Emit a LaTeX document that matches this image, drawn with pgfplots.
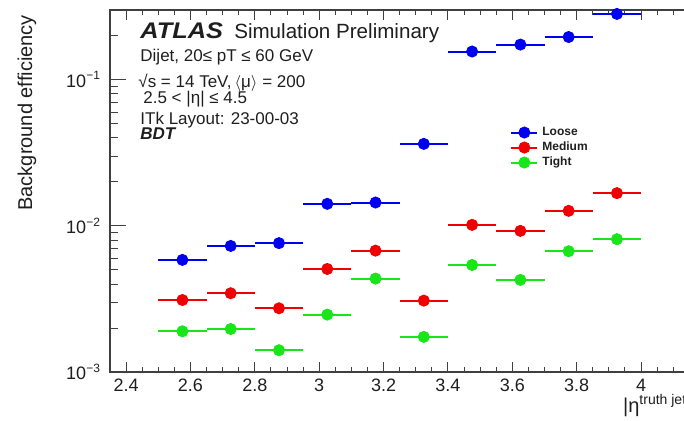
\documentclass[border=0pt]{standalone}
\usepackage{fontspec}
\setmainfont{Liberation Sans}
\usepackage{pgfplots}
\usepackage{pgfplotstable}
\pgfplotsset{compat=1.18}
\definecolor{rgreen}{RGB}{25,230,25}
\definecolor{rblue}{RGB}{0,0,240}
\definecolor{rred}{RGB}{240,0,0}
\definecolor{txt}{RGB}{30,30,30}

\pgfplotstableread{
x      loose    medium   tight
2.575  0.00585  0.00311  0.00190
2.725  0.00729  0.00346  0.00197
2.875  0.00762  0.00273  0.00141
3.025  0.01415  0.00507  0.00247
3.175  0.01445  0.00677  0.00436
3.325  0.0364   0.00308  0.00174
3.475  0.156    0.01016  0.00540
3.625  0.174    0.00924  0.00427
3.775  0.196    0.01267  0.00671
3.925  0.282    0.01675  0.00811
}\effdata

\begin{document}
\begin{tikzpicture}
\useasboundingbox (-55pt,-24pt) rectangle (287pt,186pt);
\clip (-55pt,-24pt) rectangle (287pt,186pt);
\begin{axis}[
  at={(0,0)}, anchor=south west,
  scale only axis, width=346pt, height=181pt,
  xmin=2.35, xmax=4.5, ymin=1e-3, ymax=0.3,
  ymode=log,
  xtick={2.4,2.6,2.8,3.0,3.2,3.4,3.6,3.8,4.0,4.2,4.4},
  minor x tick num=3,
  ytick={0.001,0.01,0.1},
  minor ytick={0.002,0.003,0.004,0.005,0.006,0.007,0.008,0.009,0.02,0.03,0.04,0.05,0.06,0.07,0.08,0.09,0.2,0.3},
  yticklabels={10\textsuperscript{−3},10\textsuperscript{−2},10\textsuperscript{−1}},
  tick align=inside,
  tick pos=both,
  major tick length=6pt, minor tick length=3pt,
  every major x tick/.append style={/pgfplots/major tick length=5pt},
  every minor x tick/.append style={/pgfplots/minor tick length=2.5pt},
  every major y tick/.append style={/pgfplots/major tick length=8pt},
  every minor y tick/.append style={/pgfplots/minor tick length=4pt},
  tick style={line width=0.5pt, color=black!75},
  axis line style={line width=0.7pt, color=black!75},
  /pgf/number format/assume math mode=true,
  ticklabel style={font=\fontsize{9}{10}\selectfont, text=txt},
  yticklabel style={xshift=-1pt},
  ylabel={Background efficiency},
  ylabel style={at={(axis description cs:-0.12,1.005)}, anchor=east, font=\fontsize{10}{12}\selectfont, text=txt},
  clip=false,
  legend cell align=left,
  legend style={draw=none, fill=none, at={(rel axis cs:0.578,0.682)}, anchor=north west,
    font=\bfseries\fontsize{6}{7}\selectfont, row sep=0.5pt, column sep=1.5pt, inner sep=0pt,
    nodes={inner sep=0.5pt, text height=4.5pt, text depth=1.5pt, text=txt}},
]
\addplot[rblue, only marks, mark=*, mark size=2.8pt,
  legend image code/.code={\draw[rblue, line width=1pt] (0pt,0pt) -- (13pt,0pt);
     \draw[rblue] plot[mark=*, mark size=2.8pt] coordinates {(6.5pt,0pt)};},
  error bars/.cd, x dir=both, x fixed=0.075, error mark=none,
  error bar style={line width=1pt, rblue}]
  table[x=x, y=loose] {\effdata};
\addlegendentry{Loose}
\addplot[rred, only marks, mark=*, mark size=2.8pt,
  legend image code/.code={\draw[rred, line width=1pt] (0pt,0pt) -- (13pt,0pt);
     \draw[rred] plot[mark=*, mark size=2.8pt] coordinates {(6.5pt,0pt)};},
  error bars/.cd, x dir=both, x fixed=0.075, error mark=none,
  error bar style={line width=1pt, rred}]
  table[x=x, y=medium] {\effdata};
\addlegendentry{Medium}
\addplot[rgreen, only marks, mark=*, mark size=2.8pt,
  legend image code/.code={\draw[rgreen, line width=1pt] (0pt,0pt) -- (13pt,0pt);
     \draw[rgreen] plot[mark=*, mark size=2.8pt] coordinates {(6.5pt,0pt)};},
  error bars/.cd, x dir=both, x fixed=0.075, error mark=none,
  error bar style={line width=1pt, rgreen}]
  table[x=x, y=tight] {\effdata};
\addlegendentry{Tight}

\node[anchor=base west, text=txt, font=\fontsize{11.3}{13}\selectfont\bfseries\itshape, inner sep=0pt] at (rel axis cs:0.0434,0.9218) {\scalebox{1.12}[1]{ATLAS}};
\node[anchor=base west, text=txt, font=\fontsize{10.3}{12}\selectfont, inner sep=0pt] at (rel axis cs:0.179,0.9218) {Simulation Preliminary};
\node[anchor=base west, text=txt, font=\fontsize{8.5}{10}\selectfont, inner sep=0pt] at (rel axis cs:0.0434,0.857) {Dijet, 20≤ pT ≤ 60 GeV};
\node[anchor=base west, text=txt, font=\fontsize{8.5}{10}\selectfont, inner sep=0pt] at (rel axis cs:0.0405,0.787) {√s = 14 TeV,\,$\langle$μ$\rangle$ = 200};
\node[anchor=base west, text=txt, font=\fontsize{8.5}{10}\selectfont, inner sep=0pt] at (rel axis cs:0.0477,0.743) {2.5 < |η| ≤ 4.5};
\node[anchor=base west, text=txt, font=\fontsize{8.5}{10}\selectfont, inner sep=0pt] at (rel axis cs:0.0434,0.685) {ITk Layout: 23-00-03};
\node[anchor=base west, text=txt, font=\fontsize{8.5}{10}\selectfont\bfseries\itshape, inner sep=0pt] at (rel axis cs:0.0434,0.641) {BDT};
\node[anchor=base west, text=txt, font=\fontsize{10}{12}\selectfont, inner sep=0pt] at (rel axis cs:0.741,-0.113) {|η\raisebox{4.3pt}{\fontsize{7}{8}\selectfont truth jet}|};
\end{axis}
\end{tikzpicture}
\end{document}
